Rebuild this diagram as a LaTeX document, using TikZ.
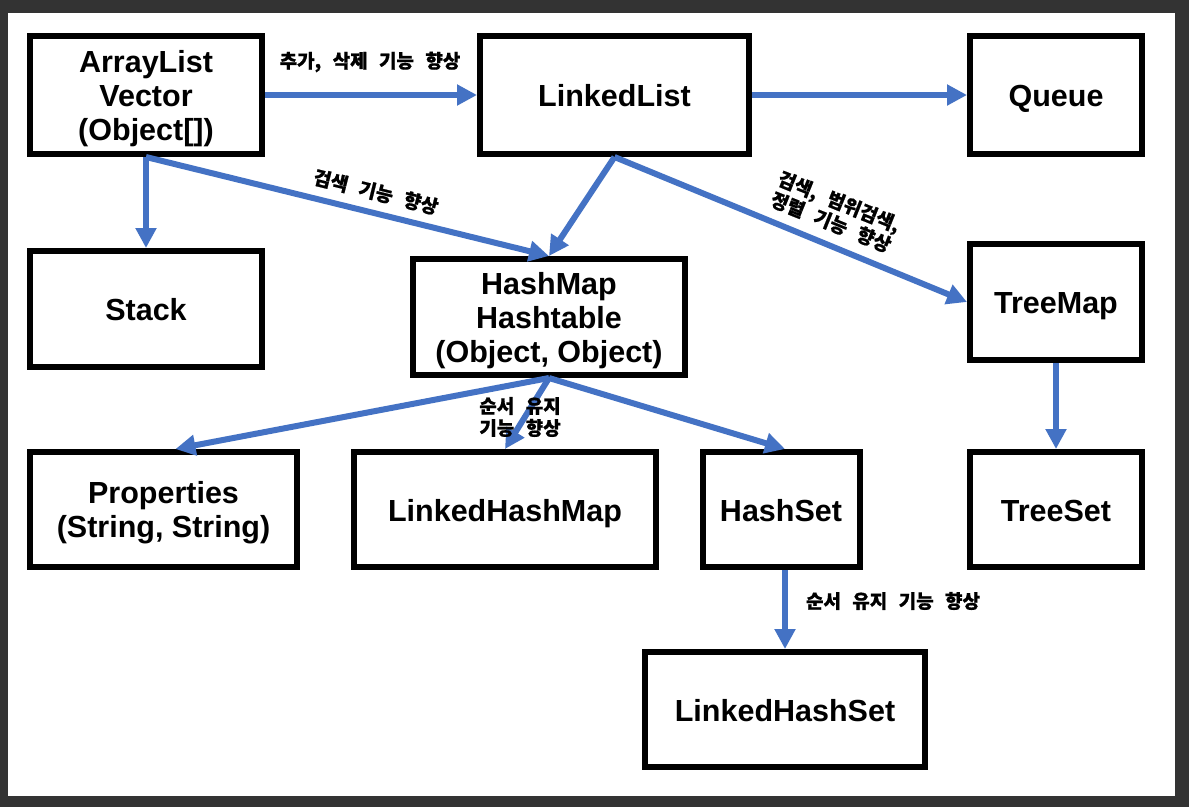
\documentclass[tikz,border=0pt]{standalone}
\usepackage{fontspec}
\setmainfont{Liberation Sans}
\newfontfamily\kr{Noto Sans CJK KR}[FakeBold=0.8]
\usetikzlibrary{arrows.meta}
\definecolor{bgdark}{HTML}{333333}
\definecolor{arrowblue}{HTML}{4472C4}
\newcommand\krlab{\kr\bfseries\fontsize{19}{22}\selectfont\spaceskip=0.6em\relax}
\newcommand\topln{\rule{0pt}{28.4pt}}
\tikzset{
  box/.style={draw=black, line width=6pt, fill=white, inner sep=0pt,
    align=center, font=\bfseries\fontsize{30.5}{34}\selectfont},
  one/.style={text height=23pt, text depth=0pt},
  conn/.style={draw=arrowblue, line width=6pt, -{Triangle[length=20pt,width=20pt]}},
  lab/.style={font=\krlab, align=center, inner sep=0pt}
}
\begin{document}
\begin{tikzpicture}[x=1pt,y=-1pt]
\fill[bgdark] (0,0) rectangle (1189,807);
\fill[white] (8,13) rectangle (1175,796);
\useasboundingbox (0,0) rectangle (1189,807);

\node[box, minimum width=232pt, minimum height=118pt] (al) at (146,95) {\topln ArrayList\\Vector\\(Object[])};
\node[box, one, minimum width=269pt, minimum height=118pt] (ll) at (614.5,95) {LinkedList};
\node[box, one, minimum width=172pt, minimum height=118pt] (q) at (1056,95) {Queue};
\node[box, one, minimum width=232pt, minimum height=116pt] (st) at (146,309) {Stack};
\node[box, minimum width=272pt, minimum height=116pt] (hm) at (549,317) {\topln HashMap\\Hashtable\\(Object, Object)};
\node[box, one, minimum width=172pt, minimum height=116pt] (tm) at (1056,302) {TreeMap};
\node[box, minimum width=267pt, minimum height=115pt] (pr) at (163.5,509.5) {\topln Properties\\(String, String)};
\node[box, one, minimum width=302pt, minimum height=115pt] (lhm) at (505,509.5) {LinkedHashMap};
\node[box, one, minimum width=157pt, minimum height=115pt] (hs) at (781,509.5) {HashSet};
\node[box, one, minimum width=172pt, minimum height=115pt] (ts) at (1056,509.5) {TreeSet};
\node[box, one, minimum width=280pt, minimum height=115pt] (lhs) at (785,709.5) {LinkedHashSet};

\draw[conn] (al) -- (ll);
\draw[conn] (ll) -- (q);
\draw[conn] (al.south) -- (st.north);
\draw[conn] (al.south) -- (hm.north);
\draw[conn] (ll.south) -- (hm.north);
\draw[conn] (ll.south) -- (tm.west);
\draw[conn] (tm.south) -- (ts.north);
\draw[conn] (hm.south) -- ([xshift=12pt]pr.north);
\draw[conn] (hm.south) -- (lhm.north);
\draw[conn] (hm.south) -- ([xshift=4pt]hs.north);
\draw[conn] ([xshift=4pt]hs.south) -- (lhs.north);

\node[lab] (l1) at (370,62) {추가, 삭제 기능 향상};
\node[lab, rotate=-14] (l2) at (376,192) {검색 기능 향상};
\node[lab, rotate=-22] (l3) at (835,212) {검색, 범위검색,\\정렬 기능 향상};
\node[lab] (l4) at (520,417) {순서 유지\\기능 향상};
\node[lab] (l5) at (893,601) {순서 유지 기능 향상};
\end{tikzpicture}
\end{document}
